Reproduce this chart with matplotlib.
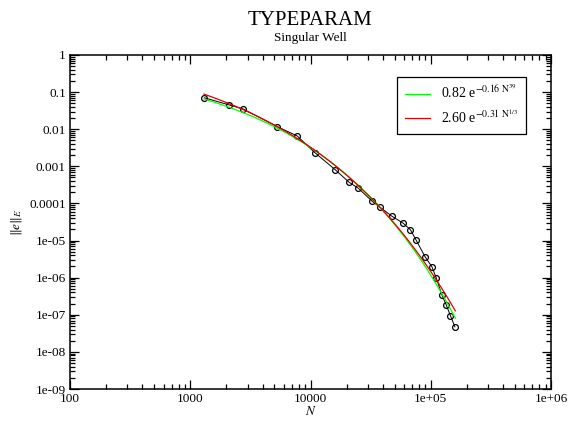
import numpy as np
import matplotlib
matplotlib.use("Agg")
import matplotlib.pyplot as plt
from matplotlib.ticker import FixedLocator, LogLocator, NullFormatter

plt.rcParams['font.family'] = ['Liberation Serif', 'DejaVu Serif']
plt.rcParams['mathtext.fontset'] = 'stix'

# error data
n_dof = [1310, 2090, 2735, 5275, 7740, 10860, 16020, 20830, 24890, 32730,
         37730, 47450, 58910, 67780, 75650, 89820, 102100, 110900, 123600,
         134300, 145900, 158600]
err = [0.0702, 0.0454, 0.0354, 0.0118, 0.00659, 0.00234, 8.14e-4, 3.77e-4,
       2.59e-4, 1.13e-4, 7.94e-5, 4.54e-5, 2.94e-5, 1.95e-5, 1.02e-5, 3.62e-6,
       1.98e-6, 1.0e-6, 3.47e-7, 1.86e-7, 9.4e-8, 4.74e-8]

# fits a*exp(-b*N^p)
green_fit = (0.82, 0.16, 0.385)
red_fit = (2.60, 0.31, 1.0 / 3.0)
fit_range = (1300, 160000)

xticks = [100, 1000, 10000, 1e5, 1e6]
xlabels = ["100", "1000", "10000", "1e+05", "1e+06"]
yticks = [1, 0.1, 0.01, 0.001, 0.0001, 1e-5, 1e-6, 1e-7, 1e-8, 1e-9]
ylabels = ["1", "0.1", "0.01", "0.001", "0.0001", "1e-05", "1e-06", "1e-07",
           "1e-08", "1e-09"]

fig = plt.figure(figsize=(5.7, 4.21), dpi=100)
ax = fig.add_axes([0.1228, 0.076, 0.8439, 0.7934])

ax.plot(n_dof, err, color='black', lw=0.7, marker='o', ms=4.2, mfc='none',
        mec='black', mew=0.9, zorder=2)

nn = np.logspace(np.log10(fit_range[0]), np.log10(fit_range[1]), 200)
a, b, p = green_fit
ax.plot(nn, a * np.exp(-b * nn ** p), color='#00ff00', lw=0.9, zorder=3,
        label=r'0.82 e$^{-0.16\ \mathrm{N}^{39}}$')
a, b, p = red_fit
ax.plot(nn, a * np.exp(-b * nn ** p), color='#e00000', lw=0.9, zorder=4,
        label=r'2.60 e$^{-0.31\ \mathrm{N}^{1/3}}$')

ax.set_xscale('log')
ax.set_yscale('log')
ax.set_xlim(100, 1e6)
ax.set_ylim(1e-9, 1)

ax.xaxis.set_major_locator(FixedLocator(xticks))
ax.set_xticklabels(xlabels)
ax.yaxis.set_major_locator(FixedLocator(yticks))
ax.set_yticklabels(ylabels)
ax.xaxis.set_minor_locator(LogLocator(base=10, subs=np.arange(2, 10), numticks=20))
ax.yaxis.set_minor_locator(LogLocator(base=10, subs=np.arange(2, 10), numticks=20))
ax.xaxis.set_minor_formatter(NullFormatter())
ax.yaxis.set_minor_formatter(NullFormatter())
ax.tick_params(which='both', direction='in', top=True, right=True,
               labelsize=9.5, width=0.9, pad=3)
ax.tick_params(which='major', length=6.5)
ax.tick_params(which='minor', length=3.5)
for s in ax.spines.values():
    s.set_linewidth(1.1)

ax.set_xlabel('$N$', fontsize=9.5, labelpad=0)
ax.set_ylabel(r'$\Vert e\Vert_E$', fontsize=9.5, labelpad=4)

fig.text(0.5439, 0.952, 'TYPEPARAM', ha='center', va='center', fontsize=15)
fig.text(0.5439, 0.909, 'Singular Well', ha='center', va='center', fontsize=9.5)

leg = ax.legend(loc='upper right', bbox_to_anchor=(0.948, 0.935), fontsize=10,
                handlelength=1.8, handletextpad=0.8, borderpad=0.55,
                labelspacing=0.5, borderaxespad=0, fancybox=False,
                framealpha=1, edgecolor='black')
leg.get_frame().set_linewidth(0.9)

fig.savefig('out.png', dpi=100)
